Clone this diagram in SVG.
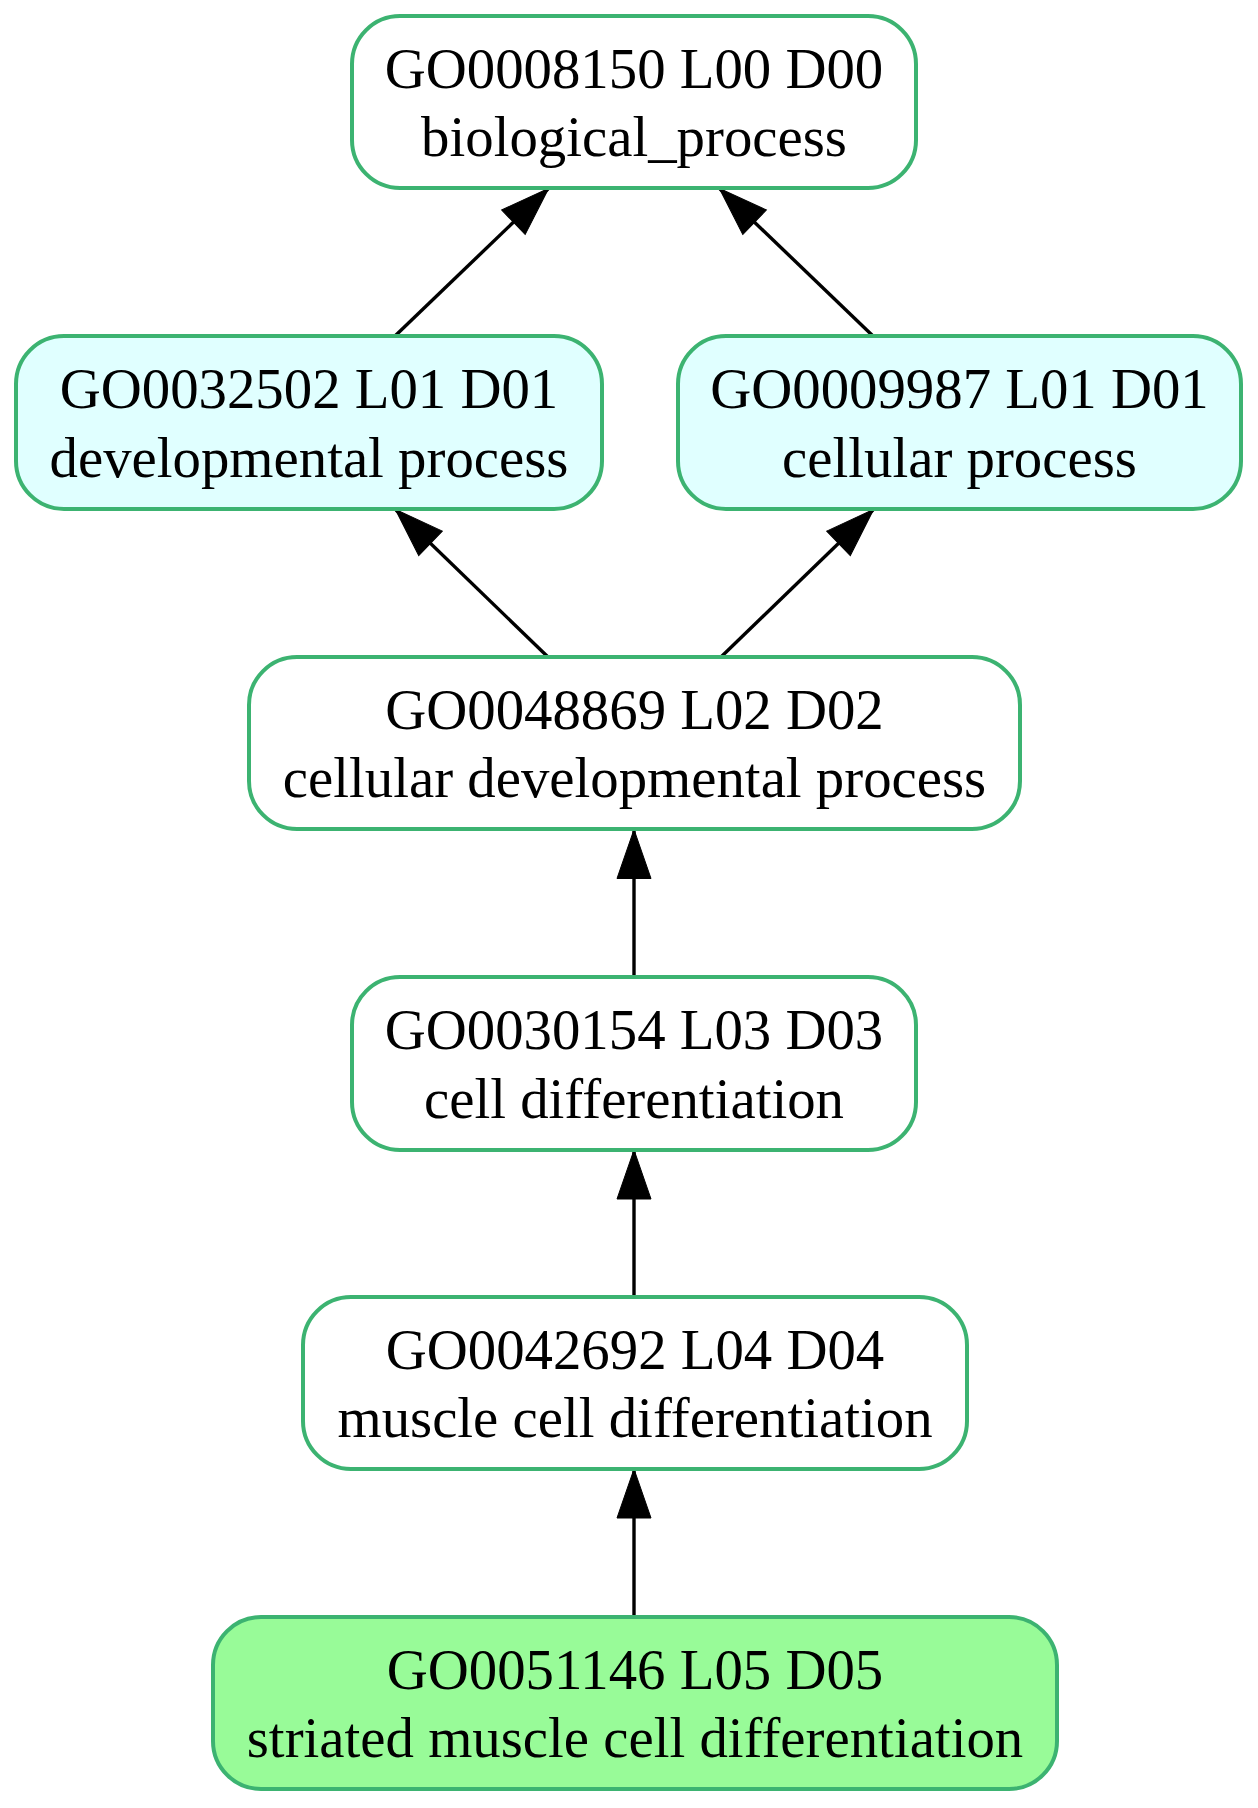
<svg xmlns="http://www.w3.org/2000/svg" width="1258" height="1808" viewBox="0 0 1258 1808">
<style>
.node rect{stroke:#3cb371;stroke-width:4}
.plain{fill:#ffffff}
.cyan{fill:#e0ffff}
.green{fill:#98fb98}
.node text{font-family:"Liberation Serif","Times New Roman",serif;font-size:56.8px;fill:#000;text-anchor:middle}
.edges line{stroke:#000;stroke-width:3.4;fill:none}
</style>
<defs>
<marker id="arr" markerUnits="userSpaceOnUse" markerWidth="60" markerHeight="40" refX="48" refY="17" orient="auto" overflow="visible">
<path d="M0,0 L49,17 L0,34 Z" fill="#000" stroke="#000" stroke-width="1"/>
</marker>
</defs>
<rect width="1258" height="1808" fill="#ffffff"/>
<g id="edges" class="edges">
<line x1="395" y1="336" x2="548" y2="189" marker-end="url(#arr)"/>
<line x1="873" y1="336" x2="720" y2="189" marker-end="url(#arr)"/>
<line x1="548" y1="657" x2="396" y2="510" marker-end="url(#arr)"/>
<line x1="721" y1="657" x2="873" y2="510" marker-end="url(#arr)"/>
<line x1="634" y1="977" x2="634" y2="830.5" marker-end="url(#arr)"/>
<line x1="634" y1="1297" x2="634" y2="1151" marker-end="url(#arr)"/>
<line x1="634" y1="1617" x2="634" y2="1470" marker-end="url(#arr)"/>
</g>
<g id="GO0008150" class="node">
<rect class="plain" x="352" y="16" width="564" height="172" rx="48" ry="48"/>
<text x="634" y="88">GO0008150 L00 D00</text>
<text x="634" y="156">biological_process</text>
</g>
<g id="GO0032502" class="node">
<rect class="cyan" x="16" y="336" width="586" height="173" rx="48" ry="48"/>
<text x="309" y="408">GO0032502 L01 D01</text>
<text x="309" y="477">developmental process</text>
</g>
<g id="GO0009987" class="node">
<rect class="cyan" x="678" y="336" width="563" height="173" rx="48" ry="48"/>
<text x="959.5" y="408">GO0009987 L01 D01</text>
<text x="959.5" y="477">cellular process</text>
</g>
<g id="GO0048869" class="node">
<rect class="plain" x="249" y="657" width="771" height="172" rx="48" ry="48"/>
<text x="634.5" y="729">GO0048869 L02 D02</text>
<text x="634.5" y="797">cellular developmental process</text>
</g>
<g id="GO0030154" class="node">
<rect class="plain" x="352" y="977" width="564" height="173" rx="48" ry="48"/>
<text x="634" y="1049">GO0030154 L03 D03</text>
<text x="634" y="1118">cell differentiation</text>
</g>
<g id="GO0042692" class="node">
<rect class="plain" x="303" y="1297" width="664" height="172" rx="48" ry="48"/>
<text x="635" y="1369">GO0042692 L04 D04</text>
<text x="635" y="1437">muscle cell differentiation</text>
</g>
<g id="GO0051146" class="node">
<rect class="green" x="213" y="1617" width="844" height="172" rx="48" ry="48"/>
<text x="635" y="1689">GO0051146 L05 D05</text>
<text x="635" y="1757">striated muscle cell differentiation</text>
</g>
</svg>
